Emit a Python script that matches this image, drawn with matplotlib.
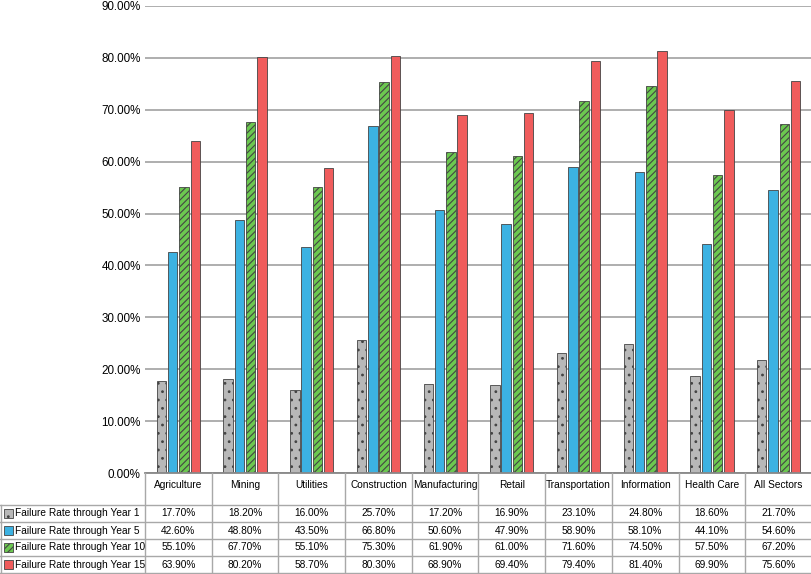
import matplotlib
matplotlib.use("Agg")
import matplotlib.pyplot as plt
import numpy as np
from matplotlib.patches import Rectangle

plt.rcParams['font.family'] = ['Liberation Sans', 'DejaVu Sans']
plt.rcParams['hatch.linewidth'] = 0.8

categories = ["Agriculture", "Mining", "Utilities", "Construction", "Manufacturing",
              "Retail", "Transportation", "Information", "Health Care", "All Sectors"]
series_names = ["Failure Rate through Year 1", "Failure Rate through Year 5",
                "Failure Rate through Year 10", "Failure Rate through Year 15"]
year1 = [17.7, 18.2, 16.0, 25.7, 17.2, 16.9, 23.1, 24.8, 18.6, 21.7]
year5 = [42.6, 48.8, 43.5, 66.8, 50.6, 47.9, 58.9, 58.1, 44.1, 54.6]
year10 = [55.1, 67.7, 55.1, 75.3, 61.9, 61.0, 71.6, 74.5, 57.5, 67.2]
year15 = [63.9, 80.2, 58.7, 80.3, 68.9, 69.4, 79.4, 81.4, 69.9, 75.6]
yticks = [0, 10, 20, 30, 40, 50, 60, 70, 80, 90]

series = [year1, year5, year10, year15]
colors = ["#b8b8b8", "#3cb2e2", "#6cc850", "#f05c5c"]
hatches = [". .", None, "/////", None]

W, H = 812, 574
fig = plt.figure(figsize=(W / 100, H / 100), dpi=100)

ax_l, ax_r, ax_top, ax_bot = 145, 812, 6, 473
ax = fig.add_axes([ax_l / W, 1 - ax_bot / H, (ax_r - ax_l) / W, (ax_bot - ax_top) / H])
n = len(categories)
x = np.arange(n)
bw = 0.142
pitch = 0.169
for k, (vals, c, h) in enumerate(zip(series, colors, hatches)):
    off = (k - 1.5) * pitch
    ax.bar(x + off, vals, width=bw, color=c, edgecolor="#444444", linewidth=0.6,
           hatch=h, zorder=3)
ax.set_xlim(-0.5, n - 0.5)
ax.set_ylim(0, 90)
ax.set_yticks(yticks)
ax.set_yticklabels([f"{v:.2f}%" for v in yticks], fontsize=8.4)
ax.tick_params(axis='y', length=0, pad=3)
ax.set_xticks([])
ax.grid(axis='y', color="#a8a8a8", linewidth=1.3, zorder=0)
for s in ["left", "right", "top", "bottom"]:
    ax.spines[s].set_visible(False)

# table area in pixel coordinates
tb = fig.add_axes([0, 0, 1, 1])
tb.set_xlim(0, W)
tb.set_ylim(H, 0)
tb.axis("off")
tb.patch.set_alpha(0)

colw = (ax_r - ax_l) / n
lc = "#a8a8a8"
head_top, head_bot = 473, 505
row_h = 17
row_tops = [head_bot + i * row_h for i in range(len(series) + 1)]
tbot = row_tops[-1]

# horizontal lines
tb.plot([ax_l, ax_r], [head_top, head_top], color="#888888", lw=1.3)
for y in row_tops:
    tb.plot([0, ax_r], [y, y], color=lc, lw=1.0)
# vertical lines
for i in range(n + 1):
    xx = ax_l + i * colw
    tb.plot([xx, xx], [head_top, tbot], color=lc, lw=1.0)
tb.plot([0.5, 0.5], [head_bot, tbot], color=lc, lw=1.0)

fs = 7.3
for i, cat in enumerate(categories):
    tb.text(ax_l + (i + 0.5) * colw, head_top + 12, cat, ha="center", va="center", fontsize=fs)
for r, (name, vals, c, h) in enumerate(zip(series_names, series, colors, hatches)):
    yc = row_tops[r] + row_h / 2
    tb.add_patch(Rectangle((4, yc - 4.5), 9, 9, facecolor=c, edgecolor="#444444",
                           lw=0.6, hatch=h))
    tb.text(15, yc, name, ha="left", va="center", fontsize=fs)
    for i, v in enumerate(vals):
        tb.text(ax_l + (i + 0.5) * colw, yc, f"{v:.2f}%", ha="center", va="center", fontsize=fs)

fig.savefig("out.png", dpi=100)
